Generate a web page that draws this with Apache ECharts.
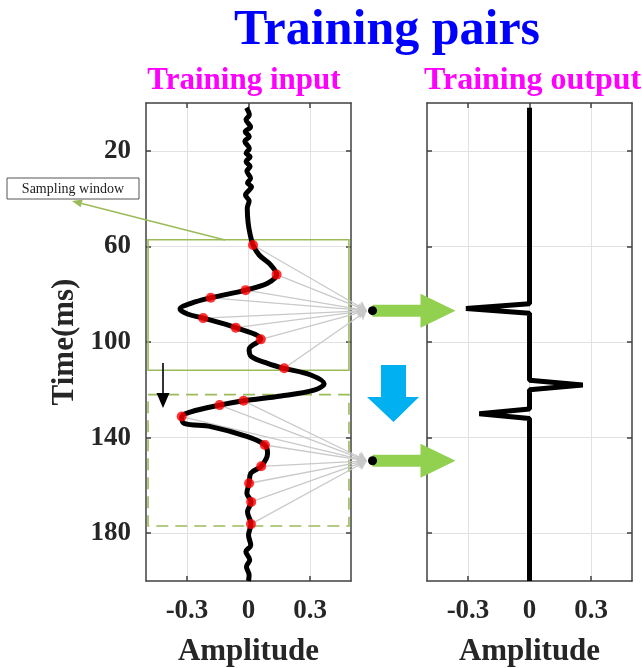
<!DOCTYPE html>
<html><head><meta charset="utf-8">
<script src="https://cdn.jsdelivr.net/npm/echarts@6/dist/echarts.min.js"></script>
<style>html,body{margin:0;padding:0;background:#fff}#c{width:642px;height:668px}</style>
</head><body><div id="c"></div>
<script>
// ---- data ----
const traceTime = [2,5,7,10,12,14,16,19,21,22.5,24.5,26.5,28.5,31.5,33.5,35,37,38.5,41,44,50,55,59.4,63.6,67.8,71.8,75.4,78.3,81.5,83.8,86.2,88.3,90,94,98.9,103,106.2,108.9,111,113.8,117.5,120.1,122.6,124.6,126.4,129.2,131.3,134,135.4,139.6,143.1,146.6,152,154.9,159.1,163.3,166.9,171,176.2,180.8,185,187.7,191.2,194,197.5,200];
const traceAmp  = [-0.01,0.004,-0.012,0.01,-0.016,0.004,-0.018,0.004,-0.012,0.008,-0.012,0.008,-0.008,0.01,-0.005,0.015,-0.003,-0.015,0.003,-0.006,-0.002,0.008,0.022,0.052,0.109,0.137,0.093,-0.014,-0.184,-0.281,-0.334,-0.298,-0.221,-0.062,0.06,0.003,0.015,0.093,0.174,0.304,0.369,0.32,0.158,-0.024,-0.141,-0.281,-0.326,-0.314,-0.184,-0.005,0.08,0.093,0.062,0.011,0.003,-0.008,0.013,-0.005,0.012,0,0.011,-0.013,0.006,-0.01,0.003,0];
const sampleTime = [59.4,71.8,78.3,81.5,90,94,98.9,111,124.6,126.4,131.2,143.1,152,159.1,166.9,176.2];
const sampleAmp  = [0.022,0.137,-0.014,-0.184,-0.221,-0.062,0.06,0.174,-0.024,-0.141,-0.326,0.08,0.062,0.003,0.013,0.012];
const outputTime = [2,84,86,88,116,118,120,128,130,132,200];
const outputAmp  = [0,0,-0.31,0,0,0.26,0,0,-0.245,0,0];
const xTicks = [-0.3, 0, 0.3];
const yTicks = [20, 60, 100, 140, 180];
const windowSolid = [57.2, 111.8];
const windowDashed = [122, 177];
const targetTime = [86.9, 149.7];
const targetAmp = 0.577;
const dotAmp = 0.605;

// ---- chart ----
const chart = echarts.init(document.getElementById('c'), null, {renderer: 'canvas'});
const SERIF = '"Liberation Serif","Times New Roman",serif';
const AX = '#404040';
const GRIDC = '#e2e2e2';

function xAxes(g) {
  return [{
    gridIndex: g, type: 'value', min: -0.5, max: 0.5, position: 'bottom',
    axisLine: {show: true, onZero: false, lineStyle: {color: AX, width: 1.5}},
    axisTick: {show: true, inside: true, length: 5, customValues: xTicks, lineStyle: {color: AX, width: 1.5}},
    axisLabel: {show: true, customValues: xTicks, margin: 17, color: '#262626', fontFamily: SERIF, fontWeight: 'bold', fontSize: 27,
      formatter: v => (Math.abs(v) < 1e-9 ? '0' : String(v))},
    splitLine: {show: true, lineStyle: {color: GRIDC, width: 1}},
    name: 'Amplitude', nameLocation: 'middle', nameGap: 55,
    nameTextStyle: {color: '#262626', fontFamily: SERIF, fontWeight: 'bold', fontSize: 31}
  }, {
    gridIndex: g, type: 'value', min: -0.5, max: 0.5, position: 'top',
    axisLine: {show: true, onZero: false, lineStyle: {color: AX, width: 1.5}},
    axisTick: {show: true, inside: true, length: 5, customValues: xTicks, lineStyle: {color: AX, width: 1.5}},
    axisLabel: {show: false}, splitLine: {show: false}
  }];
}
function yAxes(g, withLabels) {
  return [{
    gridIndex: g, type: 'value', min: 0, max: 200, inverse: true, position: 'left',
    axisLine: {show: true, onZero: false, lineStyle: {color: AX, width: 1.5}},
    axisTick: {show: true, inside: true, length: 5, customValues: yTicks, lineStyle: {color: AX, width: 1.5}},
    axisLabel: {show: withLabels, customValues: yTicks, margin: 15, color: '#262626', fontFamily: SERIF, fontWeight: 'bold', fontSize: 27},
    splitLine: {show: true, lineStyle: {color: GRIDC, width: 1}},
    name: withLabels ? 'Time(ms)' : '', nameLocation: 'middle', nameGap: 66, nameRotate: 90,
    nameTextStyle: {color: '#262626', fontFamily: SERIF, fontWeight: 'bold', fontSize: 31}
  }, {
    gridIndex: g, type: 'value', min: 0, max: 200, inverse: true, position: 'right',
    axisLine: {show: true, onZero: false, lineStyle: {color: AX, width: 1.5}},
    axisTick: {show: true, inside: true, length: 5, customValues: yTicks, lineStyle: {color: AX, width: 1.5}},
    axisLabel: {show: false}, splitLine: {show: false}
  }];
}

const tracePts = traceTime.map((t, i) => [traceAmp[i], t]);
const samplePts = sampleTime.map((t, i) => [sampleAmp[i], t]);
const outputPts = outputTime.map((t, i) => [outputAmp[i], t]);
const rays = sampleTime.map((t, i) => ({coords: [[sampleAmp[i], t], [targetAmp, i < 8 ? targetTime[0] : targetTime[1]]]}));

const winColor = '#9bbb59';

chart.setOption({
  animation: false,
  backgroundColor: '#fff',
  grid: [
    {left: 146, top: 103, width: 205, height: 478, containLabel: false, outerBoundsMode: 'none'},
    {left: 427, top: 103, width: 205, height: 478, containLabel: false, outerBoundsMode: 'none'}
  ],
  xAxis: [...xAxes(0), ...xAxes(1)],
  yAxis: [...yAxes(0, true), ...yAxes(1, false)],
  series: [
    {
      type: 'lines', coordinateSystem: 'cartesian2d', xAxisIndex: 0, yAxisIndex: 0,
      clip: false, silent: true, z: 1,
      symbol: ['none', 'arrow'], symbolSize: 9,
      lineStyle: {color: '#c9c9c9', width: 1.3, opacity: 1},
      data: rays
    },
    {
      type: 'line', xAxisIndex: 0, yAxisIndex: 0, data: tracePts, smooth: 0.35,
      showSymbol: false, symbol: 'none', z: 3,
      lineStyle: {color: '#000', width: 5},
      markArea: {
        silent: true,
        data: [
          [{xAxis: -0.49, yAxis: windowSolid[0], itemStyle: {color: 'rgba(0,0,0,0)', borderColor: winColor, borderWidth: 1.6}},
           {xAxis: 0.49, yAxis: windowSolid[1]}],
          [{xAxis: -0.49, yAxis: windowDashed[0], itemStyle: {color: 'rgba(0,0,0,0)', borderColor: winColor, borderWidth: 1.6, borderType: [12, 7]}},
           {xAxis: 0.49, yAxis: windowDashed[1]}]
        ]
      }
    },
    {
      type: 'scatter', xAxisIndex: 0, yAxisIndex: 0, data: samplePts, symbolSize: 10, z: 5,
      itemStyle: {color: '#ff0000'}
    },
    {
      type: 'line', xAxisIndex: 2, yAxisIndex: 2, data: outputPts, showSymbol: false, symbol: 'none', z: 3,
      lineStyle: {color: '#000', width: 5}
    }
  ]
});

// ---- annotations ----
const c1 = chart.convertToPixel({xAxisIndex: 0, yAxisIndex: 0}, [dotAmp, targetTime[0]]);
const c2 = chart.convertToPixel({xAxisIndex: 0, yAxisIndex: 0}, [dotAmp, targetTime[1]]);
const green = '#92d050';
function greenArrow(p) {
  const cx = p[0], cy = p[1];
  return [
    {type: 'rect', shape: {x: cx, y: cy - 6, width: 49, height: 12}, style: {fill: green}, z: 10},
    {type: 'polygon', shape: {points: [[cx + 48, cy - 17], [cx + 83, cy], [cx + 48, cy + 17]]}, style: {fill: green}, z: 10},
    {type: 'circle', shape: {cx: cx, cy: cy, r: 4.5}, style: {fill: '#000'}, z: 11}
  ];
}
// pointer from the label box to the window
const tip = [72, 201], tail = [225, 240];
const dx = tail[0] - tip[0], dy = tail[1] - tip[1], L = Math.hypot(dx, dy);
const ux = dx / L, uy = dy / L, hl = 10, hw = 4;
const bx = tip[0] + ux * hl, by = tip[1] + uy * hl;

chart.setOption({
  graphic: [
    {type: 'text', x: 387, y: 31, z: 20, style: {text: 'Training pairs', align: 'center', verticalAlign: 'middle',
      fill: '#0000ff', font: 'bold 50px ' + SERIF}},
    {type: 'text', x: 244, y: 81, z: 20, style: {text: 'Training input', align: 'center', verticalAlign: 'middle',
      fill: '#ff00ff', font: 'bold 31px ' + SERIF}},
    {type: 'text', x: 424, y: 81, z: 20, style: {text: 'Training output', align: 'left', verticalAlign: 'middle',
      fill: '#ff00ff', font: 'bold 32px ' + SERIF}},
    {type: 'rect', shape: {x: 7, y: 178, width: 132, height: 21}, style: {fill: '#fff', stroke: '#555', lineWidth: 1}, z: 20},
    {type: 'text', x: 73, y: 189, z: 21, style: {text: 'Sampling window', align: 'center', verticalAlign: 'middle',
      fill: '#222', font: '14px ' + SERIF}},
    {type: 'line', shape: {x1: bx, y1: by, x2: tail[0], y2: tail[1]}, style: {stroke: winColor, lineWidth: 1.6}, z: 20},
    {type: 'polygon', shape: {points: [tip, [bx - uy * hw, by + ux * hw], [bx + uy * hw, by - ux * hw]]}, style: {fill: winColor}, z: 20},
    {type: 'line', shape: {x1: 163, y1: 363, x2: 163, y2: 398}, style: {stroke: '#000', lineWidth: 1.6}, z: 20},
    {type: 'polygon', shape: {points: [[156.5, 393], [169.5, 393], [163, 408]]}, style: {fill: '#000'}, z: 20},
    {type: 'polygon', shape: {points: [[381, 365], [406, 365], [406, 397], [419, 397], [393.5, 422], [367, 397], [381, 397]]},
      style: {fill: '#00b0f0'}, z: 20},
    ...greenArrow(c1), ...greenArrow(c2)
  ]
});
</script></body></html>
